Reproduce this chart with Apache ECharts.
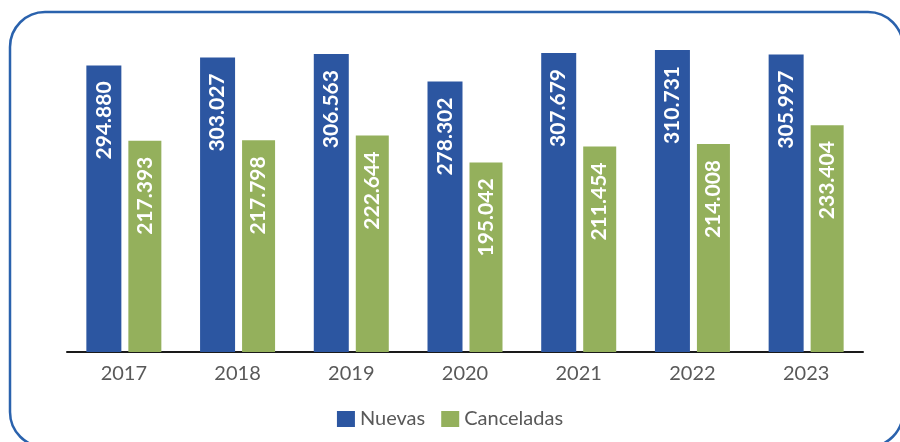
<!DOCTYPE html>
<html>
<head>
<meta charset="utf-8">
<script src="https://cdn.jsdelivr.net/npm/echarts@6/dist/echarts.min.js"></script>
<style>html,body{margin:0;padding:0;background:#fff}#c{width:900px;height:442px}</style>
</head>
<body>
<div id="c"></div>
<script>
const categories = ['2017','2018','2019','2020','2021','2022','2023'];
const nuevas = [294880, 303027, 306563, 278302, 307679, 310731, 305997];
const canceladas = [217393, 217798, 222644, 195042, 211454, 214008, 233404];
const seriesNames = ['Nuevas', 'Canceladas'];

function fmt(v) {
  return String(v).replace(/\B(?=(\d{3})+(?!\d))/g, '.');
}
const labelCfg = {
  show: true,
  position: 'insideTop',
  rotate: 90,
  align: 'right',
  verticalAlign: 'middle',
  distance: 16,
  color: '#ffffff',
  fontFamily: 'Lato',
  fontWeight: 'bold',
  fontSize: 21,
  formatter: p => fmt(p.value)
};
const chart = echarts.init(document.getElementById('c'));
chart.setOption({
  animation: false,
  graphic: [{
    type: 'rect',
    shape: {x: 10, y: 12, width: 893, height: 435, r: 35},
    style: {fill: 'none', stroke: '#2a62ad', lineWidth: 2.5},
    z: -1
  }],
  grid: {left: 67, right: 37, top: 41, bottom: 90},
  legend: {
    bottom: 8,
    left: 'center',
    itemWidth: 18,
    itemHeight: 16,
    itemGap: 16,
    icon: 'rect',
    textStyle: {fontFamily: 'Lato', fontSize: 20, color: '#595959'},
    data: seriesNames
  },
  xAxis: {
    type: 'category',
    data: categories,
    axisLine: {lineStyle: {color: '#1a1a1a', width: 2}},
    axisTick: {show: false},
    axisLabel: {fontFamily: 'Lato', fontSize: 20, color: '#595959', margin: 12}
  },
  yAxis: {
    type: 'value',
    min: 0,
    max: 320000,
    show: false,
    splitLine: {show: false}
  },
  series: [
    {name: seriesNames[0], type: 'bar', data: nuevas, barWidth: 35, barGap: '20%',
     itemStyle: {color: '#2c56a1'}, label: labelCfg},
    {name: seriesNames[1], type: 'bar', data: canceladas, barWidth: 33,
     itemStyle: {color: '#94b05c'}, label: labelCfg}
  ]
});
</script>
</body>
</html>
